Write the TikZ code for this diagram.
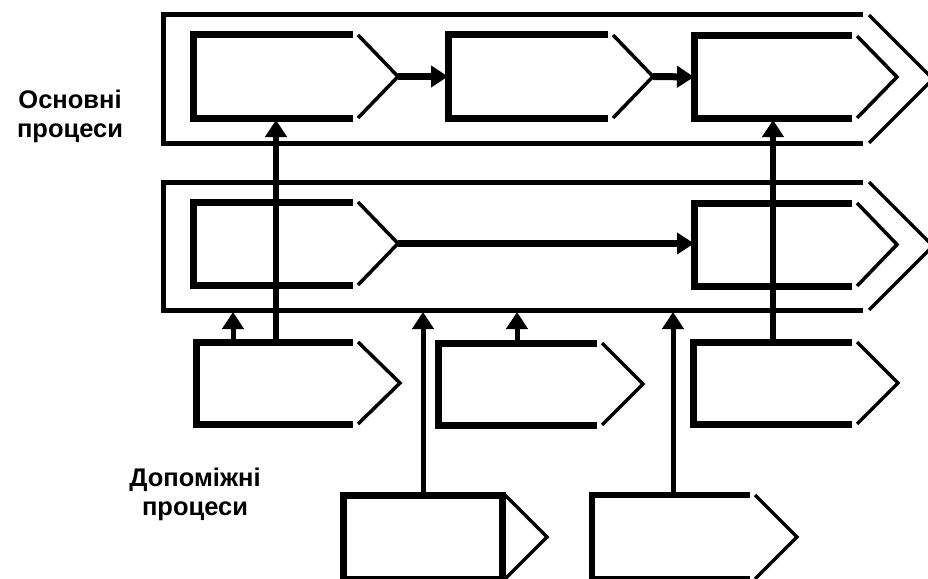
\documentclass[tikz,border=0pt]{standalone}
\usepackage{fontspec}
\setmainfont{Liberation Sans}
\usetikzlibrary{arrows.meta}
\tikzset{
  area/.style n args={2}{draw=none, inner sep=0pt, outer sep=0pt,
    minimum width=#1, minimum height=#2, anchor=north west},
  outerline/.style={line width=5pt, line cap=butt, line join=miter},
  innerline/.style={line width=7pt, line cap=butt, line join=miter},
  chevline/.style={line width=3.5pt, line cap=butt, line join=miter},
  thickarr/.style={line width=7pt, -{Triangle[length=17pt,width=21pt]}},
  thinarr/.style={line width=5pt, -{Triangle[length=17pt,width=21pt]}},
  lbl/.style={font=\bfseries\fontsize{25.5}{29}\selectfont, align=center, inner sep=0pt}
}
\newcommand{\drawproc}[5]{%
  \draw[#2] (#1.north east) -- (#1.north west) -- (#1.south west) -- (#1.south east);
  \draw[chevline] ([xshift=#4]#1.north east) -- ([xshift=#3]#1.east) -- ([xshift=#4]#1.south east);
  \coordinate (#1-tip) at ([xshift=#5]#1.east);
}
\begin{document}
\begin{tikzpicture}[x=1pt, y=-1pt]
\useasboundingbox (0,0) rectangle (928,578);

% outer group boxes
\node[area={700pt}{128pt}] (O1) at (163,15) {};
\node[area={700pt}{128pt}] (O2) at (163,182) {};
\drawproc{O1}{outerline}{70pt}{6pt}{70pt}
\drawproc{O2}{outerline}{70pt}{6pt}{70pt}

% main process boxes
\node[area={160pt}{83pt}] (T1) at (193,35) {};
\node[area={160pt}{83pt}] (T2) at (448,35) {};
\node[area={158pt}{82pt}] (T3) at (694,36) {};
\drawproc{T1}{innerline}{45pt}{5pt}{45pt}
\drawproc{T2}{innerline}{45pt}{5pt}{45pt}
\drawproc{T3}{innerline}{45pt}{5pt}{45pt}

\node[area={160pt}{83pt}] (M1) at (193,202) {};
\node[area={158pt}{83pt}] (M2) at (694,203) {};
\drawproc{M1}{innerline}{45pt}{5pt}{45pt}
\drawproc{M2}{innerline}{45pt}{5pt}{45pt}

% supporting process boxes
\node[area={157pt}{82pt}] (C) at (196,342) {};
\node[area={159pt}{82pt}] (D) at (438,343) {};
\node[area={159pt}{82pt}] (E) at (693,342) {};
\drawproc{C}{innerline}{47pt}{5pt}{47pt}
\drawproc{D}{innerline}{46pt}{5pt}{46pt}
\drawproc{E}{innerline}{46pt}{5pt}{46pt}

\node[area={159pt}{84pt}] (F) at (343,495) {};
\node[area={158pt}{84pt}] (G) at (592,495) {};
\draw[innerline] (F.north west) rectangle (F.south east);
\draw[chevline] ([xshift=3pt]F.north east) -- ([xshift=45pt]F.east) -- ([xshift=3pt]F.south east);
\drawproc{G}{line width=6pt, line cap=butt, line join=miter}{47pt}{5pt}{47pt}

% horizontal arrows
\draw[thickarr] (T1-tip) -- (T2.west);
\draw[thickarr] (T2-tip) -- (T3.west);
\draw[thickarr] (M1-tip) -- (M2.west |- M1-tip);

% vertical connectors
\coordinate (xa) at (276,0);
\coordinate (xb) at (773,0);
\coordinate (xc) at (233,0);
\coordinate (xd) at (423,0);
\coordinate (xe) at (517,0);
\coordinate (xf) at (673,0);
\draw[line width=6pt, -{Triangle[length=17pt,width=21pt]}, shorten >=2pt] (xa |- C.north) -- (xa |- T1.south);
\draw[line width=6pt, -{Triangle[length=17pt,width=21pt]}, shorten >=2pt] (xb |- E.north) -- (xb |- T3.south);
\draw[thinarr, shorten >=2pt] (xc |- C.north) -- (xc |- O2.south);
\draw[thinarr, shorten >=2pt] (xd |- F.north) -- (xd |- O2.south);
\draw[thinarr, shorten >=2pt] (xe |- D.north) -- (xe |- O2.south);
\draw[thinarr, shorten >=2pt] (xf |- G.north) -- (xf |- O2.south);

% labels
\node[lbl, anchor=base] (L1) at (70,137) {Основні\\процеси};
\node[lbl, anchor=base] (L2) at (195,515) {Допоміжні\\процеси};
\end{tikzpicture}
\end{document}
